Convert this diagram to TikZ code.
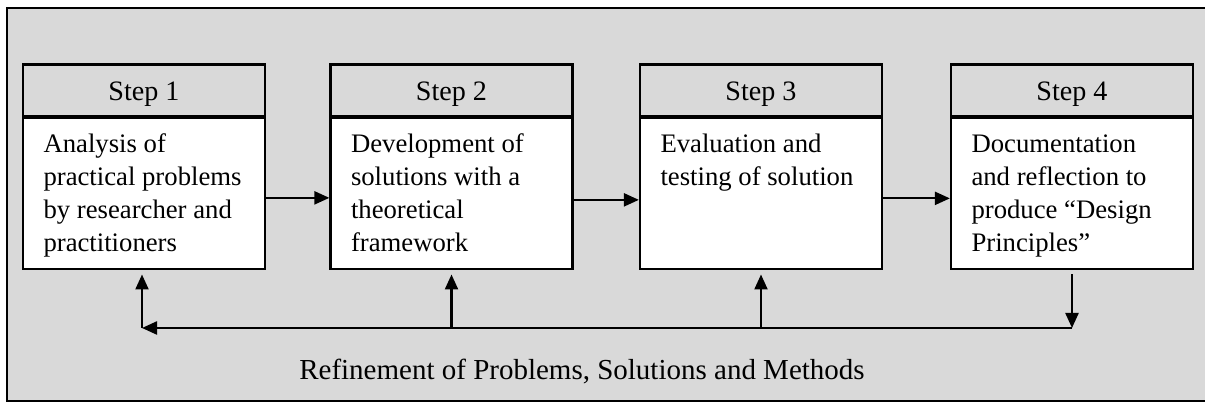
\documentclass[tikz,border=0pt]{standalone}
\usepackage{fontspec}
\setmainfont{Liberation Serif}
\usetikzlibrary{arrows.meta}
\definecolor{panelgrey}{RGB}{217,217,217}
\newcommand{\stepcontent}[1]{\parbox[t][2.585cm][t]{4.02cm}{\raggedright\strut#1}}
\tikzset{
  stephead/.style={draw, fill=panelgrey, line width=0.045cm, anchor=north,
    minimum width=4.84cm, minimum height=1.03cm, inner sep=0pt,
    text height=11pt, text depth=0pt, font=\fontsize{16}{19}\selectfont},
  stepbody/.style={draw, fill=white, line width=0.045cm, anchor=north,
    inner xsep=0.41cm, inner ysep=0.2175cm, font=\fontsize{15.2}{18.8}\selectfont},
  flow/.style={line width=0.045cm, -{Triangle[length=0.3cm, width=0.26cm]}}
}
\begin{document}
\begin{tikzpicture}
                        \useasboundingbox (0,0) rectangle (24.100000,8.060000);
                        
                        % Grey panel, open on the right
                        \fill [panelgrey] (0.140000,0.040000) rectangle (24.100000,7.900000);%
                        \draw [line width=0.055cm] (24.100000,7.900000) -- (0.140000,7.900000) -- (0.140000,0.040000) -- (24.100000,0.040000);%
                        
                        % Marking step 1
                        \node [stephead] (head1) at (2.880000,6.790000) {Step 1};%
                        \node [stepbody] (body1) at (head1.south) {\stepcontent{Analysis of\\ practical problems\\ by researcher and\\ practitioners}};%
                        
                        % Marking step 2
                        \node [stephead] (head2) at (9.030000,6.790000) {Step 2};%
                        \node [stepbody] (body2) at (head2.south) {\stepcontent{Development of\\ solutions with a\\ theoretical\\ framework}};%
                        
                        % Marking step 3
                        \node [stephead] (head3) at (15.220000,6.790000) {Step 3};%
                        \node [stepbody] (body3) at (head3.south) {\stepcontent{Evaluation and\\ testing of solution}};%
                        
                        % Marking step 4
                        \node [stephead] (head4) at (21.440000,6.790000) {Step 4};%
                        \node [stepbody] (body4) at (head4.south) {\stepcontent{Documentation\\ and reflection to\\ produce “Design\\ Principles”}};%
                        
                        % Drawing arrows from step to step
                        \draw [flow] ([yshift=-0.08cm]body1.east) -- ([yshift=-0.08cm]body2.west);%
                        \draw [flow] ([yshift=-0.12cm]body2.east) -- ([yshift=-0.12cm]body3.west);%
                        \draw [flow] ([yshift=-0.09cm]body3.east) -- ([yshift=-0.09cm]body4.west);%
                        
                        % Feedback line under the steps
                        \coordinate (fbl) at (2.840000,1.500000);%
                        \coordinate (fbr) at (body4.south |- fbl);%
                        \draw [flow, shorten <=0.08cm] (body4.south) -- (fbr);%
                        \draw [flow] (fbr) -- (fbl);%
                        \draw [flow, shorten >=0.08cm] (fbl) -- (fbl |- body1.south);%
                        \draw [flow, shorten >=0.08cm] (body2.south |- fbl) -- (body2.south);%
                        \draw [flow, shorten >=0.08cm] (body3.south |- fbl) -- (body3.south);%
                        
                        % Marking the refinement label
                        \node [anchor=base, font=\fontsize{16.5}{19}\selectfont] (refine) at (11.640000,0.460000) {Refinement of Problems, Solutions and Methods};%
\end{tikzpicture}
\end{document}
